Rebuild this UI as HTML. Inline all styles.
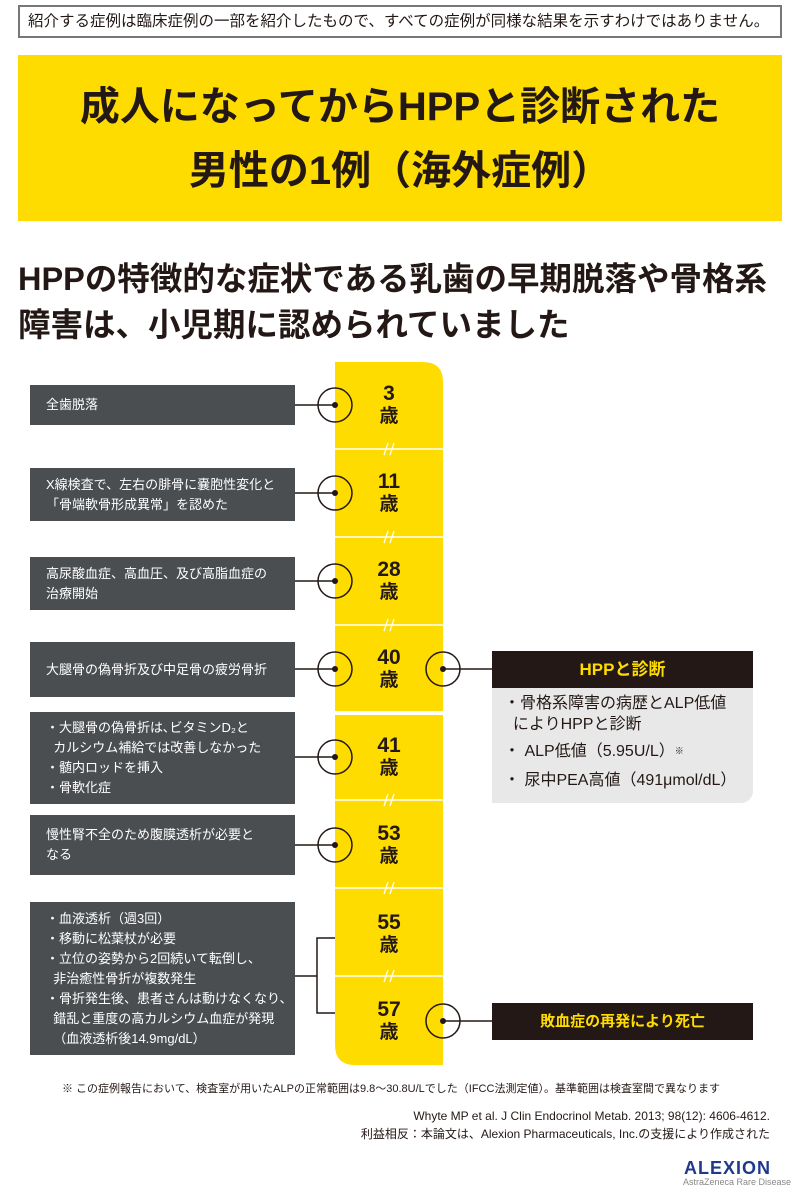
<!DOCTYPE html>
<html><head><meta charset="utf-8"><style>
*{margin:0;padding:0;box-sizing:border-box}
body{width:800px;height:1191px;background:#fff;position:relative;overflow:hidden;font-family:"Liberation Sans","Noto Sans CJK JP",sans-serif;color:#231815}
.a{position:absolute}
.box{position:absolute;left:30px;width:265px;background:#4b4e51;color:#fff;font-size:13px;line-height:20px;padding-left:16px;display:flex;flex-direction:column;justify-content:center}
.age{position:absolute;left:335px;width:108px;text-align:center;font-weight:bold;font-size:21px;line-height:23px;color:#231815;font-family:"Liberation Sans Narrow","Liberation Sans","Noto Sans CJK JP",sans-serif}
.age span{display:block;font-size:19px}
</style></head><body>
<div class="a" style="left:18px;top:5px;width:764px;height:33px;border:2px solid #777;font-size:15.5px;line-height:29px;padding-left:8px;white-space:nowrap">紹介する症例は臨床症例の一部を紹介したもので、すべての症例が同様な結果を示すわけではありません。</div>
<div class="a" style="left:18px;top:55px;width:764px;height:166px;background:#ffdc00;text-align:center;font-weight:bold;font-size:40px;line-height:64px;padding-top:20px;white-space:nowrap">成人になってからHPPと診断された<br>男性の1例（海外症例）</div>
<div class="a" style="left:18px;top:256px;font-weight:bold;font-size:32.5px;line-height:46px;color:#231815;white-space:nowrap">HPPの特徴的な症状である乳歯の早期脱落や骨格系<br>障害は、小児期に認められていました</div>

<svg class="a" style="left:0;top:0" width="800" height="1191">
<path d="M335 362 H423 Q443 362 443 382 V711 H335Z" fill="#ffdc00"/>
<path d="M335 715 H443 V1065 H355 Q335 1065 335 1045Z" fill="#ffdc00"/>
<g stroke="#fff" stroke-width="1.5">
<line x1="335" y1="449" x2="443" y2="449"/><line x1="335" y1="537" x2="443" y2="537"/><line x1="335" y1="625" x2="443" y2="625"/>
<line x1="335" y1="800" x2="443" y2="800"/><line x1="335" y1="888" x2="443" y2="888"/><line x1="335" y1="976" x2="443" y2="976"/>
</g>
<g stroke="#fff" stroke-width="1.3">
<path d="M384 455 l4 -12 M390 455 l4 -12 M384 543 l4 -12 M390 543 l4 -12 M384 631 l4 -12 M390 631 l4 -12 M384 806 l4 -12 M390 806 l4 -12 M384 894 l4 -12 M390 894 l4 -12 M384 982 l4 -12 M390 982 l4 -12"/>
</g>
<g stroke="#231815" stroke-width="1.5" fill="none">
<circle cx="335" cy="405" r="17"/><circle cx="335" cy="493" r="17"/><circle cx="335" cy="581" r="17"/><circle cx="335" cy="669" r="17"/><circle cx="335" cy="757" r="17"/><circle cx="335" cy="845" r="17"/>
<circle cx="443" cy="669" r="17"/><circle cx="443" cy="1021" r="17"/>
<path d="M295 405H335M295 493H335M295 581H335M295 669H335M295 757H335M295 845H335M443 669H492M443 1021H492"/>
<path d="M295 976H317M335 938H317V1013H335"/>
</g>
<g fill="#231815">
<circle cx="335" cy="405" r="3"/><circle cx="335" cy="493" r="3"/><circle cx="335" cy="581" r="3"/><circle cx="335" cy="669" r="3"/><circle cx="335" cy="757" r="3"/><circle cx="335" cy="845" r="3"/><circle cx="443" cy="669" r="3"/><circle cx="443" cy="1021" r="3"/>
</g>
</svg>

<div class="age" style="top:382px">3<span>歳</span></div>
<div class="age" style="top:470px">11<span>歳</span></div>
<div class="age" style="top:558px">28<span>歳</span></div>
<div class="age" style="top:646px">40<span>歳</span></div>
<div class="age" style="top:734px">41<span>歳</span></div>
<div class="age" style="top:822px">53<span>歳</span></div>
<div class="age" style="top:911px">55<span>歳</span></div>
<div class="age" style="top:998px">57<span>歳</span></div>

<div class="box" style="top:385px;height:40px">全歯脱落</div>
<div class="box" style="top:468px;height:53px">X線検査で、左右の腓骨に嚢胞性変化と<br>「骨端軟骨形成異常」を認めた</div>
<div class="box" style="top:557px;height:53px">高尿酸血症、高血圧、及び高脂血症の<br>治療開始</div>
<div class="box" style="top:642px;height:55px">大腿骨の偽骨折及び中足骨の疲労骨折</div>
<div class="box" style="top:712px;height:92px">・大腿骨の偽骨折は､ビタミンD₂と<br>&nbsp;&nbsp;カルシウム補給では改善しなかった<br>・髄内ロッドを挿入<br>・骨軟化症</div>
<div class="box" style="top:815px;height:60px">慢性腎不全のため腹膜透析が必要と<br>なる</div>
<div class="box" style="top:902px;height:153px">・血液透析（週3回）<br>・移動に松葉杖が必要<br>・立位の姿勢から2回続いて転倒し、<br>&nbsp;&nbsp;非治癒性骨折が複数発生<br>・骨折発生後、患者さんは動けなくなり、<br>&nbsp;&nbsp;錯乱と重度の高カルシウム血症が発現<br>&nbsp;&nbsp;（血液透析後14.9mg/dL）</div>

<div class="a" style="left:492px;top:651px;width:261px;height:37px;background:#231815;color:#ffdc00;font-weight:bold;font-size:17px;line-height:37px;text-align:center">HPPと診断</div>
<div class="a" style="left:492px;top:688px;width:261px;height:115px;background:#e8e8e8;border-bottom-right-radius:12px;font-size:16px;line-height:21px;padding:5px 0 0 12px">・骨格系障害の病歴とALP低値<br>&nbsp;&nbsp;によりHPPと診断<div style="margin-top:6px">・ ALP低値（5.95U/L）<span style="font-size:9px;vertical-align:top">※</span></div><div style="margin-top:8px">・ 尿中PEA高値（491μmol/dL）</div></div>
<div class="a" style="left:492px;top:1003px;width:261px;height:37px;background:#231815;color:#ffdc00;font-weight:bold;font-size:15px;line-height:37px;text-align:center">敗血症の再発により死亡</div>

<div class="a" style="left:62px;top:1080px;font-size:11px;white-space:nowrap">※ この症例報告において、検査室が用いたALPの正常範囲は9.8～30.8U/Lでした（IFCC法測定値）。基準範囲は検査室間で異なります</div>
<div class="a" style="right:30px;top:1107px;font-size:12px;line-height:18px;text-align:right;white-space:nowrap">Whyte MP et al. J Clin Endocrinol Metab. 2013; 98(12): 4606-4612.<br>利益相反：本論文は、Alexion Pharmaceuticals, Inc.の支援により作成された</div>
<div class="a" style="left:684px;top:1158px;font-size:18px;color:#1f3a8a;letter-spacing:1px;font-weight:bold">ALEXION</div>
<div class="a" style="left:683px;top:1177px;font-size:9px;color:#888">AstraZeneca Rare Disease</div>
</body></html>
